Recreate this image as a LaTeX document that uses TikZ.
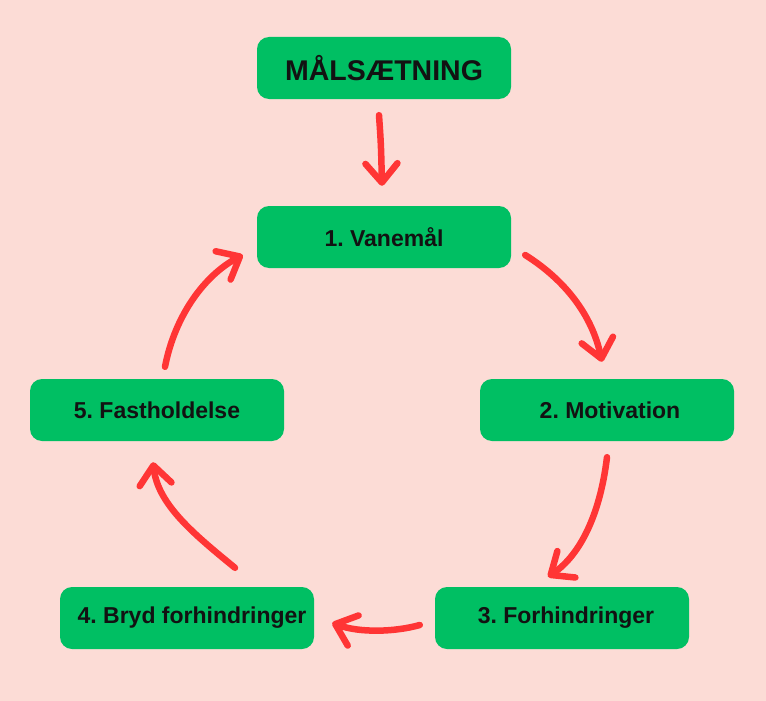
\documentclass[tikz,border=0pt]{standalone}
\usepackage{fontspec}
\setmainfont{Liberation Sans}
\usetikzlibrary{arrows.meta,calc}
\definecolor{bgpink}{HTML}{FCDCD6}
\definecolor{boxgreen}{HTML}{00BF63}
\definecolor{arrred}{HTML}{FF3535}
\frenchspacing
\begin{document}
\begin{tikzpicture}[x=1pt,y=-1pt,
  stepbox/.style={draw=none,fill=boxgreen,rounded corners=12pt,minimum width=254pt,minimum height=62pt,inner sep=0pt,font=\fontsize{23}{26}\selectfont\bfseries,text=black!93},
  titlebox/.style={stepbox,font=\fontsize{28.5}{32}\selectfont\bfseries},
  arr/.style={draw=arrred,line width=6.5pt,line cap=round,line join=round,-{Straight Barb[length=19pt,width=32pt,round]}}]
\fill[bgpink] (0,0) rectangle (766,701);
\useasboundingbox (0,0) rectangle (766,701);
\node[titlebox] (t) at (384,68) {MÅLSÆTNING};
\node[stepbox] (v) at (384,237) {1. Vanemål\hspace{6pt}};
\node[stepbox] (m) at (607,410) {\hspace{6pt}2. Motivation};
\node[stepbox] (f) at (562,618) {\hspace{8pt}3. Forhindringer};
\node[stepbox] (b) at (187,618) {\hspace{10pt}4. Bryd forhindringer};
\node[stepbox] (h) at (157,410) {5. Fastholdelse\hspace{8pt}};
% arrows
\draw[arr] ($(t.south)+(-5,16)$) .. controls ($(t.south)+(-3,45)$) .. ($(v.north)+(-2,-20)$);
\draw[arr] ($(v.east)+(14,18)$) .. controls (565,280) and (592,315) .. ($(m.north)+(-5,-17)$);
\draw[arr] ($(m.south)+(0,16)$) .. controls (600,515) and (580,555) .. ($(f.north)+(-14,-10)$);
\draw[arr] ($(f.west)+(-15,7)$) .. controls (395,632) and (360,633) .. ($(b.east)+(18,5)$);
\draw[arr] ($(b.north)+(48,-19)$) .. controls (195,535) and (158,505) .. ($(h.south)+(-4,21)$);
\draw[arr] ($(h.north)+(8,-12)$) .. controls (175,315) and (205,275) .. ($(v.west)+(-14,18)$);
\end{tikzpicture}
\end{document}
